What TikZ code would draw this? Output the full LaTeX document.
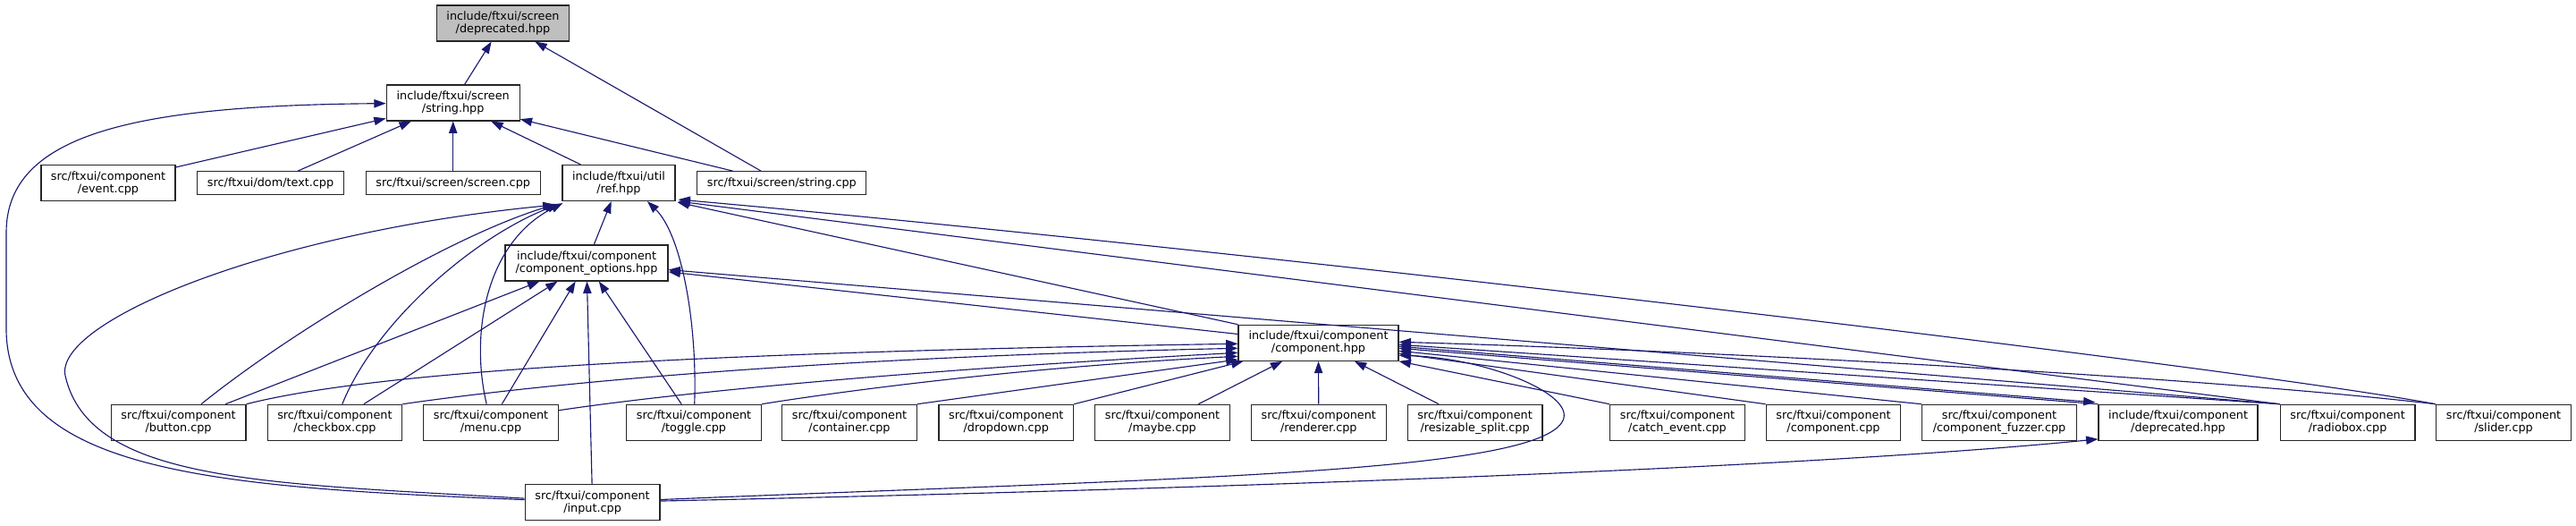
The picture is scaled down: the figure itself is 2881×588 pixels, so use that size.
\documentclass[tikz,border=0pt]{standalone}
\usepackage{fontspec}
\setmainfont{DejaVu Sans}
\usetikzlibrary{arrows.meta,calc}
\definecolor{edgecol}{HTML}{191970}
\definecolor{rootfill}{HTML}{BFBFBF}
\newcommand\dxfont{\fontsize{9.6}{10.5}\selectfont}
\tikzset{
  nd/.style={draw=black!85, line width=0.85pt, fill=white, align=center, font=\dxfont, inner sep=0pt, minimum height=30pt},
  nd1/.style={nd, minimum height=19.2pt},
  bot/.style={nd, minimum width=113pt},
  edge/.style={draw=edgecol, line width=0.85pt, -{Triangle[length=10pt,width=7pt]}},
}
\begin{document}
\begin{tikzpicture}[x=0.75pt,y=-0.75pt]
\useasboundingbox (0,0) rectangle (2881,588);
\fill[white] (0,0) rectangle (2881,588);

% nodes
\node[nd, fill=rootfill, minimum width=111pt] (dscr) at (562.5,26) {include/ftxui/screen\\/deprecated.hpp};
\node[nd, minimum width=111.75pt] (shpp) at (506.7,115) {include/ftxui/screen\\/string.hpp};
\node[nd, minimum width=112.5pt] (event) at (121,204.5) {src/ftxui/component\\/event.cpp};
\node[nd1, minimum width=123pt] (text) at (302.6,204.5) {src/ftxui/dom/text.cpp};
\node[nd1, minimum width=146.25pt] (screen) at (506.7,204.5) {src/ftxui/screen/screen.cpp};
\node[nd, minimum width=94.5pt] (ref) at (692,204.5) {include/ftxui/util\\/ref.hpp};
\node[nd1, minimum width=141.75pt] (scpp) at (874.4,204.5) {src/ftxui/screen/string.cpp};
\node[nd, minimum width=136.5pt] (copt) at (656,294) {include/ftxui/component\\/component\_options.hpp};
\node[nd, minimum width=134.25pt] (chpp) at (1474.5,383.3) {include/ftxui/component\\/component.hpp};

\node[bot] (button) at (199.6,472.3) {src/ftxui/component\\/button.cpp};
\node[bot] (checkbox) at (374.4,472.3) {src/ftxui/component\\/checkbox.cpp};
\node[bot] (menu) at (549,472.3) {src/ftxui/component\\/menu.cpp};
\node[bot] (toggle) at (776,472.3) {src/ftxui/component\\/toggle.cpp};
\node[bot] (container) at (950,472.3) {src/ftxui/component\\/container.cpp};
\node[bot] (dropdown) at (1125.3,472.3) {src/ftxui/component\\/dropdown.cpp};
\node[bot] (maybe) at (1300,472.3) {src/ftxui/component\\/maybe.cpp};
\node[bot] (renderer) at (1474.8,472.3) {src/ftxui/component\\/renderer.cpp};
\node[bot] (rsplit) at (1649.6,472.3) {src/ftxui/component\\/resizable\_split.cpp};
\node[bot] (catch) at (1876,472.3) {src/ftxui/component\\/catch\_event.cpp};
\node[bot] (ccpp) at (2050.5,472.3) {src/ftxui/component\\/component.cpp};
\node[nd, minimum width=129.5pt] (fuzzer) at (2236,472.3) {src/ftxui/component\\/component\_fuzzer.cpp};
\node[nd, minimum width=133.5pt] (dcomp) at (2436,472.3) {include/ftxui/component\\/deprecated.hpp};
\node[bot] (radiobox) at (2625.6,472.3) {src/ftxui/component\\/radiobox.cpp};
\node[bot] (slider) at (2800,472.3) {src/ftxui/component\\/slider.cpp};
\node[bot] (input) at (662.6,561.7) {src/ftxui/component\\/input.cpp};

% helper coordinates
\coordinate (lb1) at (7,370);
\coordinate (lb2) at (7,260);
\coordinate (la) at (73,420);
\coordinate (lc) at (1748,470);

% edges to screen/deprecated.hpp
\draw[edge] (shpp) -- (dscr);
\draw[edge] (scpp) -- (dscr);

% edges to screen/string.hpp
\draw[edge] (event) -- (shpp);
\draw[edge] (text) -- (shpp);
\draw[edge] (screen) -- (shpp);
\draw[edge] (ref) -- (shpp);
\draw[edge] (scpp) -- (shpp);
\draw[edge] (input) .. controls (250,545) and (10,530) .. (lb1) -- (lb2) .. controls (7,150) and (150,118) .. (shpp);

% edges to util/ref.hpp
\draw[edge] (button) .. controls (320,375) and (500,265) .. ($(ref.south west)+(-6,3)$);
\draw[edge] (checkbox) .. controls (420,360) and (530,265) .. ($(ref.south west)+(-3,3)$);
\draw[edge] (menu) .. controls (525,370) and (545,270) .. ($(ref.south west)+(1,2)$);
\draw[edge] (input) .. controls (300,540) and (100,540) .. (la) .. controls (60,360) and (300,260) .. ($(ref.south west)+(-8,4)$);
\draw[edge] (copt) -- (ref);
\draw[edge] (toggle) .. controls (780,360) and (762,262) .. ($(ref.south)+(32,0)$);
\draw[edge] (chpp.north west) -- ($(ref.south east)+(2,1)$);
\draw[edge] (radiobox.north west) -- ($(ref.south east)+(3,0)$);
\draw[edge] (slider.north west) .. controls (2500,410) and (1400,280) .. ($(ref.south east)+(3,-2)$);

% edges to component_options.hpp
\draw[edge] (button) -- (copt);
\draw[edge] (checkbox) -- (copt);
\draw[edge] (menu) -- (copt);
\draw[edge] (input) -- (copt);
\draw[edge] (toggle) -- (copt);
\draw[edge] (chpp) -- (copt);
\draw[edge] (radiobox.north west) -- (copt);

% edges to component.hpp
\draw[edge] (button.north east) .. controls (400,420) and (700,395) .. ($(chpp.west)+(0,1)$);
\draw[edge] (checkbox.north east) .. controls (600,430) and (900,400) .. ($(chpp.west)+(0,6)$);
\draw[edge] ($(menu.north east)+(0,7)$) .. controls (750,440) and (1000,415) .. ($(chpp.west)+(0,11)$);
\draw[edge] (toggle.north east) .. controls (950,436) and (1150,410) .. ($(chpp.west)+(0,15)$);
\draw[edge] (container.north east) -- ($(chpp.south west)+(0,-2)$);
\draw[edge] (dropdown.north east) -- ($(chpp.south west)+(6,0)$);
\draw[edge] (maybe) -- (chpp);
\draw[edge] (renderer) -- (chpp);
\draw[edge] (rsplit) -- (chpp);
\draw[edge] (catch.north west) -- (chpp.south east);
\draw[edge] (ccpp.north west) -- ($(chpp.east)+(0,12)$);
\draw[edge] (fuzzer.north west) -- ($(chpp.east)+(0,9)$);
\draw[edge] (dcomp.north west) -- ($(chpp.east)+(0,6)$);
\draw[edge] (radiobox.north west) -- ($(chpp.east)+(0,2)$);
\draw[edge] (slider.north west) .. controls (2450,420) and (1900,392) .. ($(chpp.east)+(0,-1)$);
\draw[edge] (input) .. controls (1300,535) and (1720,530) .. (lc) .. controls (1762,440) and (1660,400) .. ($(chpp.east)+(0,14)$);

% edges to component/deprecated.hpp
\draw[edge] ($(chpp.east)+(0,4)$) -- ($(dcomp.north west)+(-3,-2)$);
\draw[edge] (input) .. controls (1300,548) and (2000,525) .. ($(dcomp.south west)+(0,-2)$);
\end{tikzpicture}
\end{document}
